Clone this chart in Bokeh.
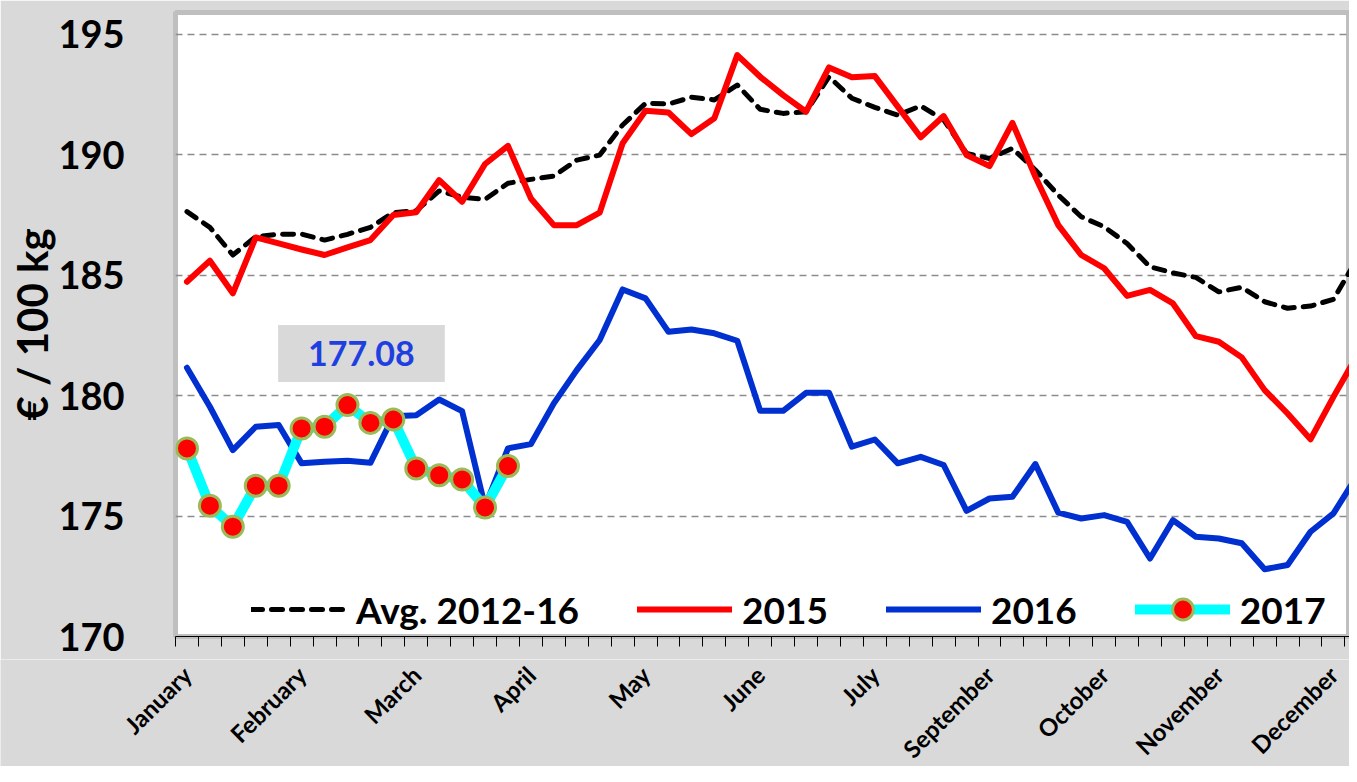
import math
from bokeh.plotting import figure
from bokeh.layouts import column
from bokeh.models import ColumnDataSource, FixedTicker, Range1d, Label
from bokeh.core.properties import value
from bokeh.embed import file_html
from bokeh.resources import INLINE

# ---------------- data ----------------
weeks = list(range(1, 53))

avg_2012_16 = [187.64, 186.99, 185.84, 186.60, 186.70, 186.71, 186.46, 186.70, 186.99, 187.60,
               187.68, 188.50, 188.24, 188.15, 188.82, 188.98, 189.12, 189.78, 189.99, 191.24,
               192.14, 192.11, 192.39, 192.28, 192.90, 191.89, 191.72, 191.79, 193.24, 192.35,
               191.97, 191.65, 192.03, 191.45, 190.06, 189.85, 190.27, 189.37, 188.33, 187.43,
               187.01, 186.32, 185.35, 185.10, 184.91, 184.31, 184.50, 183.90, 183.63, 183.72,
               184.00, 185.63]

y2015 = [184.73, 185.60, 184.25, 186.57, 186.32, 186.07, 185.84, 186.16, 186.46, 187.50,
         187.62, 188.95, 188.05, 189.62, 190.37, 188.19, 187.08, 187.08, 187.60, 190.48,
         191.83, 191.76, 190.86, 191.52, 194.14, 193.24, 192.48, 191.79, 193.63, 193.22,
         193.27, 192.00, 190.73, 191.61, 189.99, 189.53, 191.33, 189.09, 187.08, 185.84,
         185.29, 184.14, 184.39, 183.83, 182.47, 182.24, 181.59, 180.23, 179.26, 178.19,
         179.95, 181.62]

y2016 = [181.16, 179.54, 177.74, 178.71, 178.78, 177.19, 177.26, 177.30, 177.21, 179.15,
         179.19, 179.84, 179.36, 175.39, 177.81, 177.99, 179.68, 181.06, 182.31, 184.41,
         184.04, 182.65, 182.75, 182.59, 182.28, 179.37, 179.37, 180.12, 180.12, 177.88,
         178.18, 177.19, 177.46, 177.12, 175.22, 175.73, 175.80, 177.16, 175.14, 174.90,
         175.04, 174.76, 173.24, 174.83, 174.14, 174.07, 173.87, 172.79, 172.97, 174.35,
         175.11, 176.63]

y2017 = [177.81, 175.43, 174.56, 176.26, 176.26, 178.64, 178.71, 179.61, 178.87, 179.01,
         176.98, 176.70, 176.52, 175.36, 177.08]

month_labels = ["January", "February", "March", "April", "May", "June", "July",
                "September", "October", "November", "December"]
month_label_weeks = weeks[::5]

y_ticks = [170, 175, 180, 185, 190, 195]
latest_text = "177.08"

series_names = ["Avg. 2012-16", "2015", "2016", "2017"]

# ---------------- layout constants ----------------
FONT = "Lato"
BG = "#D9D9D9"
W = 1349
LEFT, TOP, FRAME_H, BOTTOM1 = 175, 12, 624, 23
H1 = TOP + FRAME_H + BOTTOM1
H2 = 766 - H1
LABEL_ANCHOR = 670          # page y of the month-label anchors
X0, X1 = 0.5, 51.70

# ---------------- main chart ----------------
p = figure(width=W, height=H1, output_backend="svg", toolbar_location=None,
           x_range=Range1d(X0, X1), y_range=Range1d(170, 195.91),
           min_border_left=LEFT, min_border_right=0, min_border_top=TOP,
           min_border_bottom=BOTTOM1,
           background_fill_color="white", border_fill_color=BG,
           outline_line_color="#BFBFBF", outline_line_width=5)
p.frame_align = False

# x axis: week boundaries as ticks (month labels in the strip below)
p.xaxis.ticker = FixedTicker(ticks=[], minor_ticks=[w - 0.5 for w in weeks] + [weeks[-1] + 0.5])
p.xaxis.axis_line_color = "black"
p.xaxis.axis_line_width = 1
p.xaxis.minor_tick_line_color = "black"
p.xaxis.minor_tick_line_width = 1
p.xaxis.minor_tick_out = 10
p.xaxis.minor_tick_in = 0
p.xaxis.major_tick_line_color = None
p.xaxis.major_tick_out = 0
p.xaxis.major_label_standoff = 0
p.xgrid.visible = False

# y axis
p.yaxis.ticker = FixedTicker(ticks=y_ticks)
p.yaxis.axis_line_color = None
p.yaxis.major_tick_line_color = None
p.yaxis.major_tick_out = 0
p.yaxis.minor_tick_line_color = None
p.yaxis.major_label_standoff = 51
p.yaxis.major_label_text_font = FONT
p.yaxis.major_label_text_font_style = "bold"
p.yaxis.major_label_text_font_size = "38px"
p.yaxis.major_label_text_color = "black"
p.yaxis.axis_label = "€ / 100 kg"
p.yaxis.axis_label_text_font = FONT
p.yaxis.axis_label_text_font_style = "bold"
p.yaxis.axis_label_text_font_size = "42px"
p.yaxis.axis_label_text_color = "black"
p.yaxis.axis_label_standoff = -2

p.ygrid.grid_line_color = "#8C8C8C"
p.ygrid.grid_line_dash = "7 5"
p.ygrid.grid_line_width = 1.5

# ---------------- series ----------------
src = ColumnDataSource(dict(week=weeks, avg=avg_2012_16, y2015=y2015, y2016=y2016))
src17 = ColumnDataSource(dict(week=weeks[:len(y2017)], y2017=y2017))

p.line("week", "avg", source=src, line_color="black", line_width=5, line_dash="11 9",
       line_cap="round", line_join="round", legend_label=series_names[0])
p.line("week", "y2015", source=src, line_color="#FF0000", line_width=6,
       line_join="round", line_cap="round", legend_label=series_names[1])
p.line("week", "y2016", source=src, line_color="#0030D0", line_width=6,
       line_join="round", line_cap="round", legend_label=series_names[2])
p.line("week", "y2017", source=src17, line_color="#00FFFF", line_width=10,
       line_join="round", line_cap="round", legend_label=series_names[3])
p.scatter("week", "y2017", source=src17, size=21, fill_color="#FF0000",
          line_color="#9BBB59", line_width=3, legend_label=series_names[3])

# ---------------- legend ----------------
leg = p.legend[0]
leg.orientation = "horizontal"
leg.location = (76, 1)
leg.padding = 0
leg.margin = 0
leg.spacing = 58
leg.glyph_width = 95
leg.glyph_height = 52
leg.label_height = 36
leg.label_standoff = 10
leg.label_text_font = FONT
leg.label_text_font_style = "bold"
leg.label_text_font_size = "37px"
leg.label_text_color = "black"
leg.border_line_color = None
leg.background_fill_alpha = 0

# ---------------- latest value box ----------------
p.add_layout(Label(x=8.61, y=181.75, text=latest_text, text_align="center",
                   text_baseline="middle", text_font=FONT, text_font_style="bold",
                   text_font_size="34px", text_color="#1F3FE0",
                   background_fill_color=BG,
                   padding=dict(left=30, right=30, top=16, bottom=16)))

# ---------------- month label strip (same x scale, frame spans the whole width) ----------------
px_per_week = (W - LEFT) / (X1 - X0)
p2 = figure(width=W, height=H2, output_backend="svg", toolbar_location=None,
            x_range=Range1d(X0 - LEFT / px_per_week, X1), y_range=Range1d(-H2, 0),
            x_axis_type=None, y_axis_type=None,
            min_border_left=0, min_border_right=0, min_border_top=0, min_border_bottom=0,
            background_fill_color=BG, border_fill_color=BG, outline_line_color=None)
p2.frame_align = False
p2.grid.visible = False
msrc = ColumnDataSource(dict(x=month_label_weeks,
                             y=[-(LABEL_ANCHOR - H1)] * len(month_label_weeks),
                             text=month_labels))
p2.text(x="x", y="y", text="text", source=msrc, angle=math.pi / 4,
        text_align="right", text_baseline="middle",
        text_font=value(FONT), text_font_style="bold",
        text_font_size="24px", text_color="black")

layout = column(p, p2, spacing=0)
open("out.html", "w").write(file_html(layout, INLINE))
